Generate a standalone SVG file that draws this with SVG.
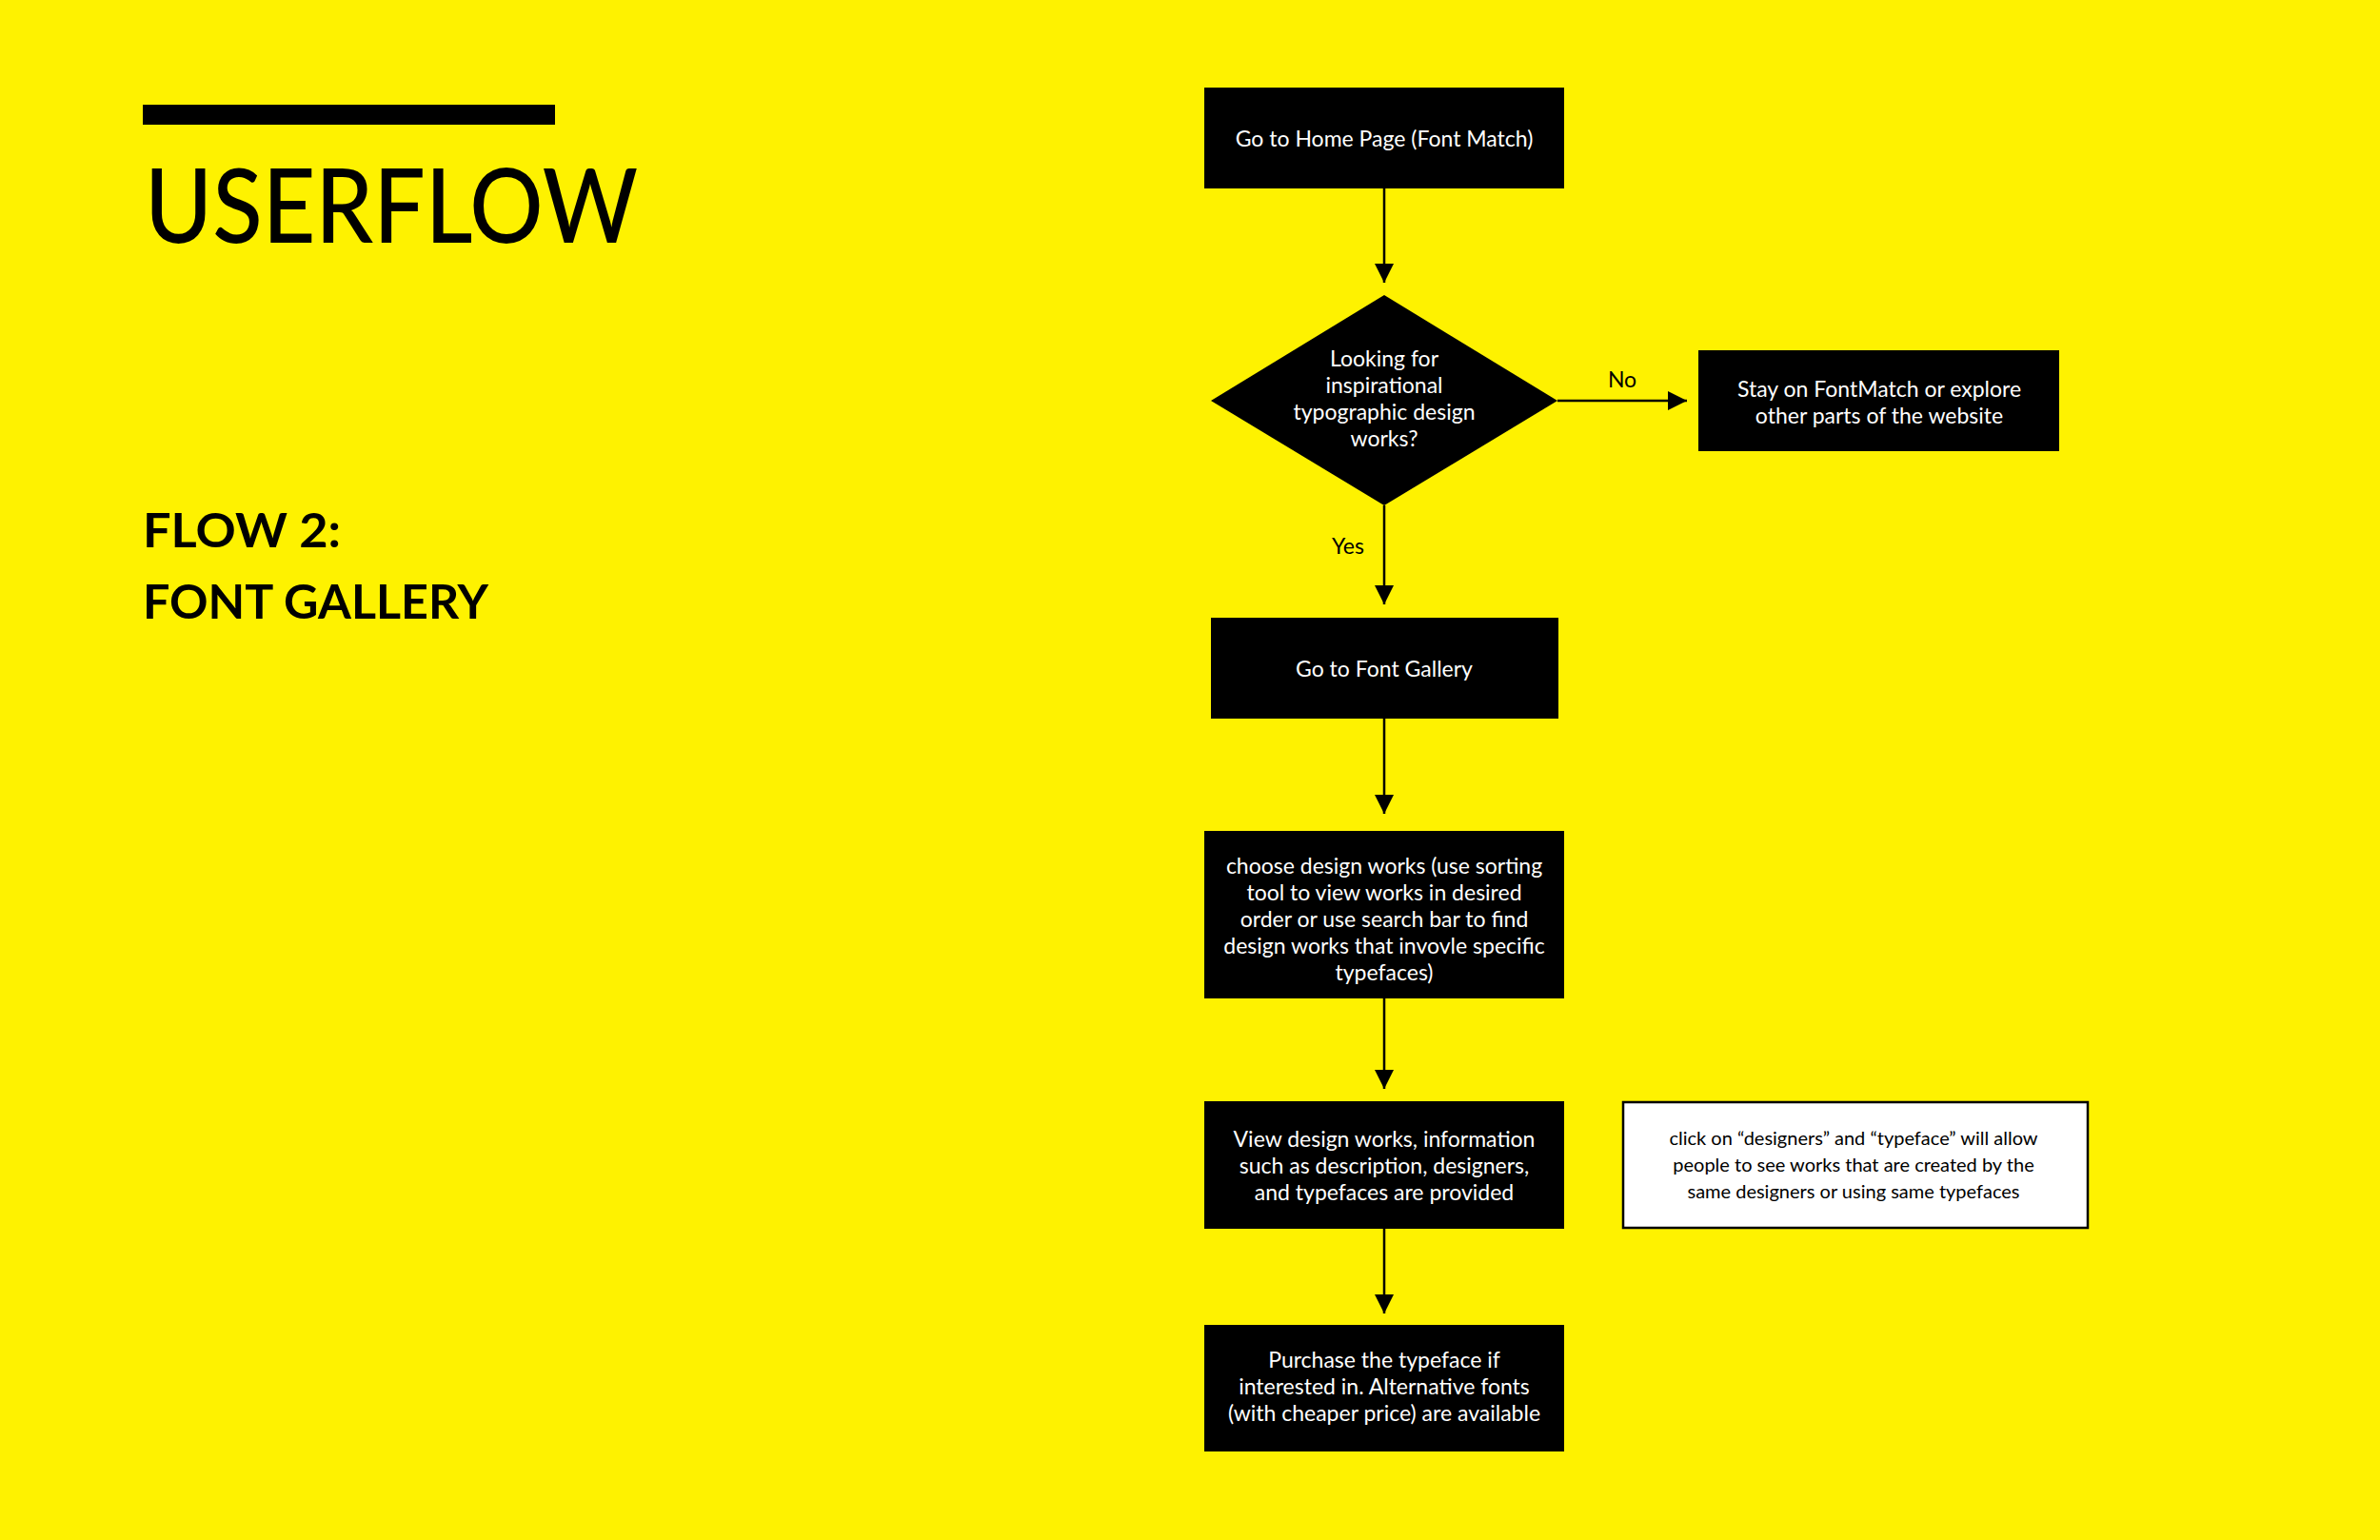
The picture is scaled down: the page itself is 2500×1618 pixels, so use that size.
<svg xmlns="http://www.w3.org/2000/svg" width="2500" height="1618" viewBox="0 0 2500 1618">
<style>
.box{fill:#000}
.t{font-family:Lato,"Open Sans",sans-serif;font-size:23px;fill:#fff;text-anchor:middle;dominant-baseline:central}
.n{font-family:Lato,"Open Sans",sans-serif;font-size:20px;fill:#000;text-anchor:middle;dominant-baseline:central}
.lbl{font-family:Lato,"Open Sans",sans-serif;font-size:23px;fill:#000;text-anchor:middle;dominant-baseline:central}
.c{stroke:#000;stroke-width:2.5;fill:none;marker-end:url(#ah)}
.h{font-family:Lato,"Liberation Sans",sans-serif;fill:#000}
</style>
<defs><marker id="ah" viewBox="0 0 10 10" refX="10" refY="5" markerUnits="userSpaceOnUse" markerWidth="20" markerHeight="20" orient="auto"><path d="M0,0 L10,5 L0,10 Z" fill="#000"/></marker></defs>
<rect width="2500" height="1618" fill="#FEF200"/>
<g id="title">
<rect x="150" y="110" width="433" height="21" fill="#000"/>
<text class="h" x="152" y="255" font-size="108" font-weight="500" textLength="518" lengthAdjust="spacingAndGlyphs">USERFLOW</text>
<text class="h" x="150" y="575" font-size="50" font-weight="bold" textLength="208" lengthAdjust="spacingAndGlyphs">FLOW 2:</text>
<text class="h" x="150" y="650" font-size="50" font-weight="bold" textLength="363" lengthAdjust="spacingAndGlyphs">FONT GALLERY</text>
</g>
<g id="connectors">
<line class="c" x1="1454" y1="198" x2="1454" y2="297"/>
<line class="c" x1="1636" y1="421" x2="1772" y2="421"/>
<line class="c" x1="1454" y1="531" x2="1454" y2="635"/>
<line class="c" x1="1454" y1="755" x2="1454" y2="855"/>
<line class="c" x1="1454" y1="1049" x2="1454" y2="1144"/>
<line class="c" x1="1454" y1="1291" x2="1454" y2="1380"/>
<text class="lbl" x="1704" y="398">No</text>
<text class="lbl" x="1416" y="573">Yes</text>
</g>
<g id="n1"><rect class="box" x="1265" y="92" width="378" height="106"/><text class="t" x="1454" y="145">Go to Home Page (Font Match)</text></g>
<g id="n2"><polygon class="box" points="1454,310 1636,421 1454,531 1272,421"/>
<text class="t" x="1454" y="376">Looking for</text><text class="t" x="1454" y="404">inspirational</text><text class="t" x="1454" y="432">typographic design</text><text class="t" x="1454" y="460">works?</text></g>
<g id="n3"><rect class="box" x="1784" y="368" width="379" height="106"/><text class="t" x="1974" y="408">Stay on FontMatch or explore</text><text class="t" x="1974" y="436">other parts of the website</text></g>
<g id="n4"><rect class="box" x="1272" y="649" width="365" height="106"/><text class="t" x="1454" y="702">Go to Font Gallery</text></g>
<g id="n5"><rect class="box" x="1265" y="873" width="378" height="176"/>
<text class="t" x="1454" y="909">choose design works (use sorting</text><text class="t" x="1454" y="937">tool to view works in desired</text><text class="t" x="1454" y="965">order or use search bar to find</text><text class="t" x="1454" y="993">design works that invovle specific</text><text class="t" x="1454" y="1021">typefaces)</text></g>
<g id="n6"><rect class="box" x="1265" y="1157" width="378" height="134"/>
<text class="t" x="1454" y="1196">View design works, information</text><text class="t" x="1454" y="1224">such as description, designers,</text><text class="t" x="1454" y="1252">and typefaces are provided</text></g>
<g id="n7"><rect x="1705" y="1158" width="488" height="132" fill="#fff" stroke="#000" stroke-width="2.5"/>
<text class="n" x="1947" y="1195">click on “designers” and “typeface” will allow</text><text class="n" x="1947" y="1223">people to see works that are created by the</text><text class="n" x="1947" y="1251">same designers or using same typefaces</text></g>
<g id="n8"><rect class="box" x="1265" y="1392" width="378" height="133"/>
<text class="t" x="1454" y="1428">Purchase the typeface if</text><text class="t" x="1454" y="1456">interested in. Alternative fonts</text><text class="t" x="1454" y="1484">(with cheaper price) are available</text></g>
</svg>
